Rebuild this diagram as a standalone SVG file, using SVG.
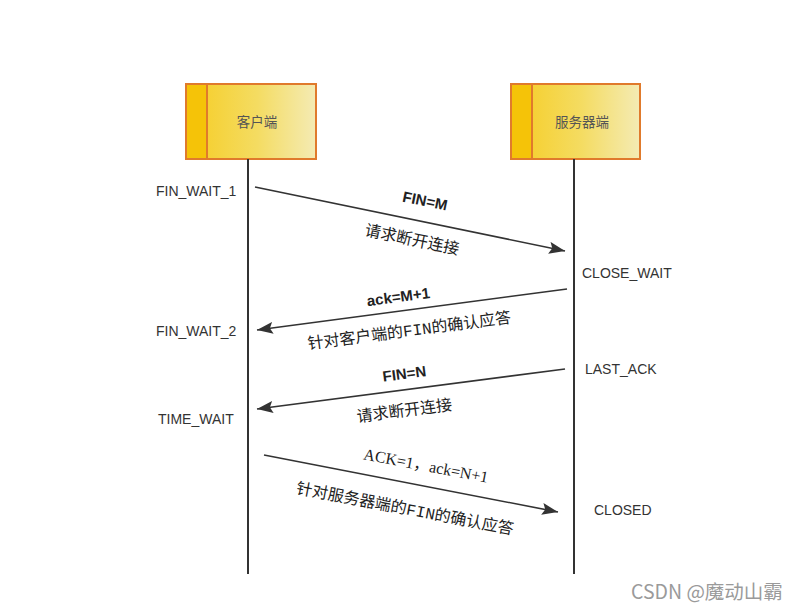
<svg xmlns="http://www.w3.org/2000/svg" width="797" height="610" viewBox="0 0 797 610">
<style>
.state{font-family:"Liberation Sans",Arial,sans-serif;font-size:14px;fill:#333}
.cn{font-family:"Noto Sans CJK SC","Liberation Sans",sans-serif;font-size:16px;fill:#222}
.bold{font-family:"Liberation Sans",Arial,sans-serif;font-size:15px;font-weight:bold;fill:#222}
.lat{font-family:"Liberation Mono","Courier New",monospace}
.ser{font-family:"Liberation Serif","Times New Roman",serif}
.title{font-family:"Noto Sans CJK SC","Liberation Sans",sans-serif;font-size:13.5px;fill:#555}
.life{stroke:#333;stroke-width:2;fill:none}
.msg{stroke:#333;stroke-width:1.6;fill:none;marker-end:url(#ah)}
.box{stroke:#e07a2c;stroke-width:2}
</style>
<defs>
<linearGradient id="g" x1="0" y1="0" x2="1" y2="0">
<stop offset="0" stop-color="#f6cc22"/>
<stop offset="0.55" stop-color="#f4dc62"/>
<stop offset="1" stop-color="#f4ebb4"/>
</linearGradient>
<marker id="ah" markerUnits="userSpaceOnUse" markerWidth="18" markerHeight="12" refX="16" refY="6" orient="auto">
<path d="M0,0 L16,6 L0,12 L3,6 z" fill="#333"/>
</marker>
</defs>
<rect width="797" height="610" fill="#fff"/>
<g id="client">
<rect class="box" x="186" y="84" width="130" height="75" fill="url(#g)"/>
<rect x="187" y="85" width="20" height="73" fill="#f5c308"/>
<line x1="207" y1="84" x2="207" y2="159" class="box"/>
<text class="title" x="257" y="127" text-anchor="middle">客户端</text>
</g>
<g id="server">
<rect class="box" x="511" y="84" width="129" height="75" fill="url(#g)"/>
<rect x="512" y="85" width="20" height="73" fill="#f5c308"/>
<line x1="532" y1="84" x2="532" y2="159" class="box"/>
<text class="title" x="582" y="127" text-anchor="middle">服务器端</text>
</g>
<g id="lifelines">
<line class="life" x1="248" y1="159" x2="248" y2="574"/>
<line class="life" x1="574" y1="159" x2="574" y2="574"/>
</g>
<g id="states">
<text class="state" x="156" y="196">FIN_WAIT_1</text>
<text class="state" x="582" y="278">CLOSE_WAIT</text>
<text class="state" x="156" y="336">FIN_WAIT_2</text>
<text class="state" x="585" y="374">LAST_ACK</text>
<text class="state" x="158" y="424">TIME_WAIT</text>
<text class="state" x="594" y="515">CLOSED</text>
</g>
<g id="connectors">
<line class="msg" x1="255" y1="187" x2="565" y2="251"/>
<line class="msg" x1="567" y1="289" x2="257" y2="330"/>
<line class="msg" x1="565" y1="369" x2="257" y2="409"/>
<line class="msg" x1="264" y1="455" x2="558" y2="512"/>
</g>
<g id="labels">
<text class="bold" transform="translate(424,206) rotate(11.7)" text-anchor="middle">FIN=M</text>
<text class="cn" transform="translate(411,245) rotate(11.7)" text-anchor="middle" font-size="16.5">请求断开连接</text>
<text class="bold" transform="translate(399,302) rotate(-7.5)" text-anchor="middle">ack=M+1</text>
<text class="cn" transform="translate(410,336) rotate(-7.5)" text-anchor="middle">针对客户端的<tspan class="lat">FIN</tspan>的确认应答</text>
<text class="bold" transform="translate(405,379) rotate(-7.4)" text-anchor="middle">FIN=N</text>
<text class="cn" transform="translate(405,416) rotate(-7.4)" text-anchor="middle" font-size="16.5">请求断开连接</text>
<text class="cn" transform="translate(425,471) rotate(10.8)" text-anchor="middle" font-size="15"><tspan class="ser">ACK=1</tspan>，<tspan class="ser">ack=N+1</tspan></text>
<text class="cn" transform="translate(404,514) rotate(10.8)" text-anchor="middle">针对服务器端的<tspan class="lat">FIN</tspan>的确认应答</text>
</g>
<text x="631" y="599" font-family="Noto Sans CJK SC, sans-serif" font-size="19.5" fill="#9a9a9a">CSDN @魔动山霸</text>
</svg>
